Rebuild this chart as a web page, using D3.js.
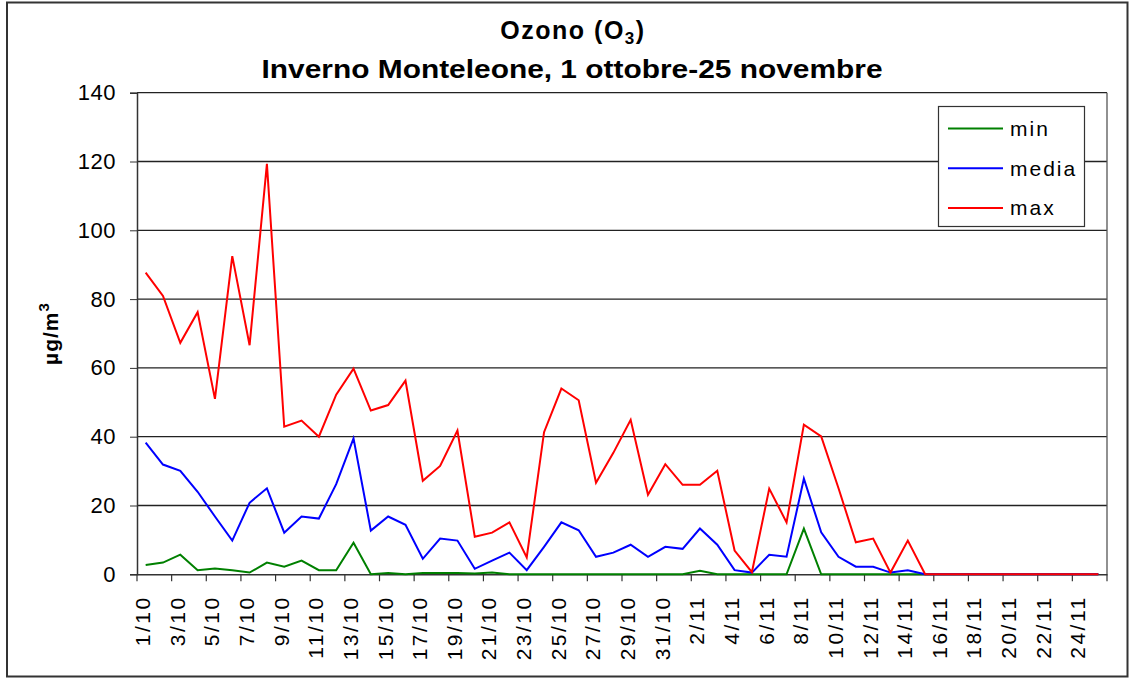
<!DOCTYPE html>
<html><head><meta charset="utf-8">
<script src="https://cdn.jsdelivr.net/npm/d3@7"></script>
<style>body{margin:0;background:#fff}svg{display:block}text{font-family:"Liberation Sans",Arial,sans-serif}</style>
</head><body>
<script>
const days = [];
for (let d = 1; d <= 31; d++) days.push(d + "/10");
for (let d = 1; d <= 25; d++) days.push(d + "/11");

const minVals = [2.7,3.4,5.7,1.2,1.7,1.2,0.5,3.4,2.2,4.0,1.2,1.2,9.2,0,0.4,0,0.4,0.4,0.4,0.2,0.5,0,0,0,0,0,0,0,0,0,0,0,1.0,0,0,0,0,0,13.3,0,0,0,0,0,0,0,0,0,0,0,0,0,0,0,0,0];
const mediaVals = [38.3,31.9,30.1,24.0,16.8,9.8,20.8,25.0,12.1,16.8,16.2,26.2,39.5,12.7,16.8,14.4,4.5,10.4,9.8,1.6,4.0,6.3,1.2,8.0,15.1,12.8,5.1,6.3,8.6,5.1,8.0,7.4,13.3,8.6,1.2,0.5,5.7,5.1,27.8,12.2,5.1,2.2,2.2,0.5,1.2,0,0,0,0,0,0,0,0,0,0,0];
const maxVals = [87.7,80.9,67.3,76.2,51.0,92.5,66.6,119.3,42.9,44.7,40.0,52.2,59.8,47.6,49.2,56.3,27.2,31.5,41.8,10.9,12.1,15.1,4.9,41.3,54.0,50.6,26.6,35.3,44.9,23.1,32.0,26.0,26.0,30.1,6.9,0.6,24.9,15.1,43.5,40.1,25.0,9.3,10.4,0.5,9.8,0,0,0,0,0,0,0,0,0,0,0];
const yTicks = [0,20,40,60,80,100,120,140];
const seriesNames = ["min","media","max"];
const seriesColors = ["#008000","#0000ff","#ff0000"];

const W = 1131, H = 679;
const svg = d3.select("body").append("svg").attr("width", W).attr("height", H);
const FF = "'Liberation Sans',Arial,sans-serif";

// outer frame
svg.append("rect").attr("x",7).attr("y",2.5).attr("width",1120.5).attr("height",674)
  .attr("fill","#fff").attr("stroke","#333").attr("stroke-width",2);

const L = 137, R = 1107, T = 92.7, B = 574.3;
const x = d3.scaleBand().domain(days).range([L, R]);
const y = d3.scaleLinear().domain([0,140]).range([B, T]);

// gridlines
svg.append("g").selectAll("line").data(yTicks.filter(v=>v>0)).join("line")
  .attr("x1",L).attr("x2",R).attr("y1",d=>y(d)).attr("y2",d=>y(d))
  .attr("stroke","#222").attr("stroke-width",1.3);
// right border
svg.append("line").attr("x1",R).attr("x2",R).attr("y1",T).attr("y2",B).attr("stroke","#555").attr("stroke-width",1.3);

// y axis
const yAxis = d3.axisLeft(y).tickValues(yTicks).tickSize(7).tickPadding(14);
const gy = svg.append("g").attr("transform",`translate(${L},0)`).call(yAxis);
gy.select(".domain").attr("stroke","#333").attr("stroke-width",1.5);
gy.selectAll(".tick line").attr("stroke","#333");
gy.selectAll("text").attr("font-size",22).attr("fill","#000").attr("letter-spacing","0.5").style("font-family",FF);

// x axis
const xAxis = d3.axisBottom(x).tickValues(days.filter((d,i)=>i%2===0)).tickSize(0).tickPadding(0);
const gx = svg.append("g").attr("transform",`translate(0,${B})`).call(xAxis);
gx.select(".domain").attr("stroke","#333").attr("stroke-width",1.5);
gx.selectAll("text").attr("font-size",21).attr("fill","#000").attr("letter-spacing","2.5")
  .style("font-family",FF)
  .attr("transform","rotate(-90)").attr("text-anchor","end").attr("dy","0.35em")
  .attr("x",-21).attr("y",-3);
// tick marks at category boundaries every 2 categories
const bnd = d3.range(0, days.length+1, 2).map(i => i < days.length ? x(days[i]) : R);
svg.append("g").selectAll("line").data(bnd).join("line")
  .attr("x1",d=>d).attr("x2",d=>d).attr("y1",B).attr("y2",B+7)
  .attr("stroke","#333").attr("stroke-width",1.2);

// lines
const cx = i => x(days[i]) + x.bandwidth()/2;
const line = d3.line().x((d,i)=>cx(i)).y(d=>y(d));
[minVals, mediaVals, maxVals].forEach((vals, k) => {
  svg.append("path").datum(vals).attr("d", line).attr("fill","none")
    .attr("stroke", seriesColors[k]).attr("stroke-width",2).attr("stroke-linejoin","miter");
});

// titles
svg.append("text").attr("x",573).attr("y",39).attr("text-anchor","middle")
  .attr("font-size",25).attr("font-weight","bold").attr("letter-spacing","1.5")
  .html('Ozono (O<tspan font-size="17" dy="5">3</tspan><tspan dy="-5">)</tspan>');
svg.append("text").attr("x",572).attr("y",78).attr("text-anchor","middle")
  .attr("font-size",26).attr("font-weight","bold").attr("textLength",621).attr("lengthAdjust","spacingAndGlyphs")
  .text("Inverno Monteleone, 1 ottobre-25 novembre");

// y label
svg.append("text").attr("transform",`translate(58,${(T+B)/2}) rotate(-90)`).attr("text-anchor","middle")
  .attr("font-size",21).attr("font-weight","bold").attr("letter-spacing","1")
  .html('µg/m<tspan font-size="15" dy="-9">3</tspan>');

// legend
const lg = svg.append("g");
lg.append("rect").attr("x",938.5).attr("y",106.5).attr("width",146).attr("height",120)
  .attr("fill","#fff").attr("stroke","#333").attr("stroke-width",1.2);
seriesNames.forEach((n,k)=>{
  const yy = 128.5 + k*39.7;
  lg.append("line").attr("x1",948).attr("x2",1003).attr("y1",yy).attr("y2",yy)
    .attr("stroke",seriesColors[k]).attr("stroke-width",2);
  lg.append("text").attr("x",1010).attr("y",yy).attr("dy","0.35em").attr("font-size",21)
    .attr("letter-spacing","2").text(n);
});
</script>
</body></html>
